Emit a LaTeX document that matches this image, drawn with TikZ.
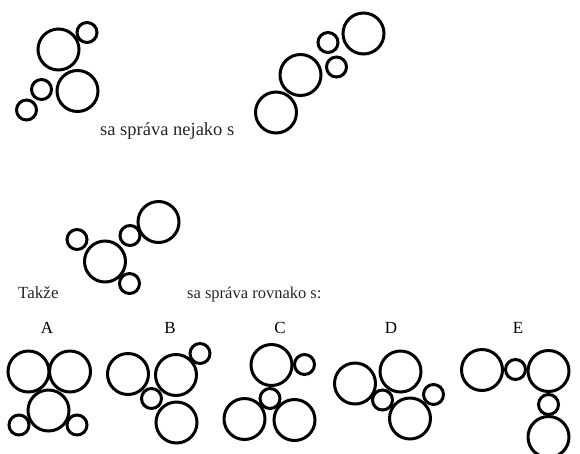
\documentclass[tikz,border=0pt]{standalone}
\usepackage{fontspec}
\setmainfont{Liberation Serif}
\begin{document}
\begin{tikzpicture}[x=1pt, y=-1pt,
    big bubble/.style={circle, draw, line width=3pt, minimum size=41pt, inner sep=0pt},
    small bubble/.style={circle, draw, line width=3pt, minimum size=20pt, inner sep=0pt},
    caption/.style={anchor=base west, inner sep=0pt, text=black!85}]
        \tikzstyle{every node}=[font=\fontsize{17}{20}\selectfont]
        \useasboundingbox (0,0) rectangle (580,453);

          % first group
          \node[big bubble] (p1) at (58.5,49.5) {};
          \node[small bubble] (p2) at (87,32.5) {};
          \node[big bubble] (p3) at (77.5,91) {};
          \node[small bubble] (p4) at (41.5,89.5) {};
          \node[small bubble] (p5) at (26.5,110) {};
          \node[caption, font=\fontsize{18.5}{22}\selectfont] (t1) at (100,135) {sa správa nejako s};

          % second group
          \node[big bubble] (q1) at (363.5,33.5) {};
          \node[small bubble] (q2) at (328,42.5) {};
          \node[small bubble] (q3) at (336.5,67) {};
          \node[big bubble] (q4) at (300.5,75) {};
          \node[big bubble] (q5) at (276,112.5) {};

          % third group
          \node[big bubble] (r1) at (158.5,222) {};
          \node[small bubble] (r2) at (130,235.5) {};
          \node[small bubble] (r3) at (77,239.5) {};
          \node[big bubble] (r4) at (105,261.5) {};
          \node[small bubble] (r5) at (129.5,283.5) {};
          \node[caption] (t2) at (18,298) {Takže};
          \node[caption, font=\fontsize{16.5}{20}\selectfont] (t3) at (187,298) {sa správa rovnako s:};

          % answers
          \node[anchor=base] (la) at (47,333) {A};
          \node[big bubble] (a1) at (28.5,371.5) {};
          \node[big bubble] (a2) at (70,371.5) {};
          \node[big bubble] (a3) at (48.5,410.5) {};
          \node[small bubble] (a4) at (19,425) {};
          \node[small bubble] (a5) at (77,425) {};

          \node[anchor=base] (lb) at (170,333) {B};
          \node[big bubble] (b1) at (128,374) {};
          \node[big bubble] (b2) at (176,375) {};
          \node[small bubble] (b3) at (200,353.5) {};
          \node[small bubble] (b4) at (151.5,398.5) {};
          \node[big bubble] (b5) at (176.5,422.5) {};

          \node[anchor=base] (lc) at (280,333) {C};
          \node[big bubble] (c1) at (271.5,365) {};
          \node[small bubble] (c2) at (304.5,364.5) {};
          \node[small bubble] (c3) at (270,398.5) {};
          \node[big bubble] (c4) at (244.5,419) {};
          \node[big bubble] (c5) at (294.5,420) {};

          \node[anchor=base] (ld) at (391,333) {D};
          \node[big bubble] (d1) at (355,383.5) {};
          \node[big bubble] (d2) at (400.5,371.5) {};
          \node[small bubble] (d3) at (382.5,400) {};
          \node[big bubble] (d4) at (410,418.5) {};
          \node[small bubble] (d5) at (433.5,394.5) {};

          \node[anchor=base] (le) at (518,333) {E};
          \node[big bubble] (e1) at (482,370) {};
          \node[small bubble] (e2) at (515.5,369.5) {};
          \node[big bubble] (e3) at (548.5,371) {};
          \node[small bubble] (e4) at (548.5,404.5) {};
          \node[big bubble] (e5) at (548.5,437) {};

        \end{tikzpicture}
\end{document}
